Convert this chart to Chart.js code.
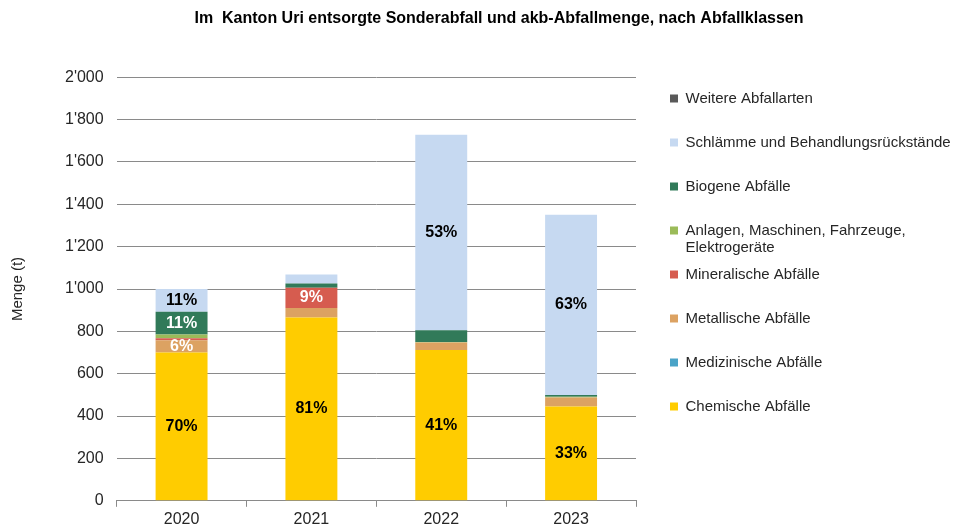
<!DOCTYPE html>
<html lang="de">
<head>
<meta charset="utf-8">
<title>Sonderabfall Kanton Uri</title>
<script src="https://cdn.jsdelivr.net/npm/chart.js@4.4.1/dist/chart.umd.min.js"></script>
<style>
  html, body { margin: 0; padding: 0; background: #fff; }
  #wrap { width: 972px; height: 528px; position: relative; }
</style>
</head>
<body>
<div id="wrap"><canvas id="abfallChart"></canvas></div>
<script>
const years = ["2020", "2021", "2022", "2023"];

const chemische = [700, 865, 712, 445];
const medizinische = [0, 0, 0, 0];
const metallische = [58, 45, 35, 43];
const mineralische = [10, 96, 0, 0];
const anlagen = [17, 0, 3, 3];
const biogene = [108, 20, 55, 8];
const schlaemme = [107, 42, 923, 852];
const weitere = [0, 0, 0, 0];

const yMax = 2000;
const yStep = 200;

const FONT = "'Liberation Sans', Arial, sans-serif";
const TEXT = "#262626";
const GRID = "#8a8a8a";
const ANLAGEN_1 = "Anlagen, Maschinen, Fahrzeuge,";
const ANLAGEN_2 = "Elektrogeräte";

const totals = years.map((_, i) =>
  [chemische, medizinische, metallische, mineralische, anlagen, biogene, schlaemme, weitere]
    .reduce((sum, arr) => sum + arr[i], 0)
);

function swissNumber(v) {
  return String(v).replace(/\B(?=(\d{3})+(?!\d))/g, "'");
}

// Prozentwerte in die Segmente schreiben (ab 5 %)
const pctLabels = {
  id: "pctLabels",
  afterDatasetsDraw(chart) {
    const { ctx } = chart;
    ctx.save();
    ctx.font = `bold 16px ${FONT}`;
    ctx.textAlign = "center";
    ctx.textBaseline = "middle";
    chart.data.datasets.forEach((ds, di) => {
      chart.getDatasetMeta(di).data.forEach((bar, i) => {
        const share = ds.data[i] / totals[i];
        if (share < 0.05) return;
        ctx.fillStyle = ds.labelColor;
        ctx.fillText(`${Math.round(share * 100)}%`, bar.x, (bar.y + bar.base) / 2);
      });
    });
    ctx.restore();
  }
};

// zweite Zeile beim Anlagen-Eintrag, ohne die Abstände zu verschieben
const legendSecondLine = {
  id: "legendSecondLine",
  afterDraw(chart) {
    const legend = chart.legend;
    const idx = legend.legendItems.findIndex((it) => it.text === ANLAGEN_1);
    const hb = legend.legendHitBoxes[idx];
    if (!hb) return;
    const { ctx } = chart;
    ctx.save();
    ctx.font = `15px ${FONT}`;
    ctx.fillStyle = TEXT;
    ctx.textBaseline = "middle";
    ctx.fillText(ANLAGEN_2, hb.left + 8 + 7.5, hb.top + 7.5 + 17);
    ctx.restore();
  }
};

// Titel und Legende wie im Original platzieren
const placeBlocks = {
  id: "placeBlocks",
  afterLayout(chart) {
    chart.titleBlock.left = 26;
    chart.titleBlock.right = 972;
    const lg = chart.legend;
    lg.left = chart.chartArea.right + 5;
    lg.right = chart.width;
    lg.width = lg.right - lg.left;
  }
};

new Chart(document.getElementById("abfallChart"), {
  type: "bar",
  data: {
    labels: years,
    datasets: [
      { label: "Chemische Abfälle", data: chemische, backgroundColor: "#ffcc00", labelColor: "#000" },
      { label: "Medizinische Abfälle", data: medizinische, backgroundColor: "#4aa3c7", labelColor: "#000" },
      { label: "Metallische Abfälle", data: metallische, backgroundColor: "#dca262", labelColor: "#fff" },
      { label: "Mineralische Abfälle", data: mineralische, backgroundColor: "#d65c4f", labelColor: "#fff" },
      { label: ANLAGEN_1, data: anlagen, backgroundColor: "#9bbb59", labelColor: "#000" },
      { label: "Biogene Abfälle", data: biogene, backgroundColor: "#317a59", labelColor: "#fff" },
      { label: "Schlämme und Behandlungsrückstände", data: schlaemme, backgroundColor: "#c6d9f1", labelColor: "#000" },
      { label: "Weitere Abfallarten", data: weitere, backgroundColor: "#595959", labelColor: "#fff" }
    ]
  },
  options: {
    responsive: true,
    maintainAspectRatio: false,
    animation: false,
    datasets: { bar: { barPercentage: 0.4, categoryPercentage: 1, borderWidth: 0 } },
    layout: { padding: { left: 0, right: 124, top: 0, bottom: -4 } },
    plugins: {
      title: {
        display: true,
        text: "Im  Kanton Uri entsorgte Sonderabfall und akb-Abfallmenge, nach Abfallklassen",
        color: "#000",
        font: { family: FONT, size: 16, weight: "bold" },
        padding: { top: 9, bottom: 49 }
      },
      legend: {
        position: "right",
        align: "start",
        reverse: true,
        title: { display: true, text: "", font: { size: 10 }, padding: { top: 26, bottom: 24 } },
        labels: {
          boxWidth: 8,
          boxHeight: 8,
          padding: 29,
          color: TEXT,
          font: { family: FONT, size: 15 }
        }
      },
      tooltip: { enabled: false }
    },
    scales: {
      x: {
        stacked: true,
        grid: { drawOnChartArea: false, drawTicks: true, tickLength: 6, offset: true, color: GRID },
        border: { display: true, color: GRID },
        ticks: { color: TEXT, font: { family: FONT, size: 16 }, padding: 3 }
      },
      y: {
        stacked: true,
        min: 0,
        max: yMax,
        grid: { drawTicks: false, color: GRID },
        border: { display: false },
        ticks: {
          stepSize: yStep,
          padding: 13,
          color: TEXT,
          font: { family: FONT, size: 16 },
          callback: (v) => swissNumber(v)
        },
        title: {
          display: true,
          text: "Menge (t)",
          color: TEXT,
          font: { family: FONT, size: 15 },
          padding: { top: 9, bottom: 25 }
        }
      }
    }
  },
  plugins: [pctLabels, legendSecondLine, placeBlocks]
});
</script>
</body>
</html>
